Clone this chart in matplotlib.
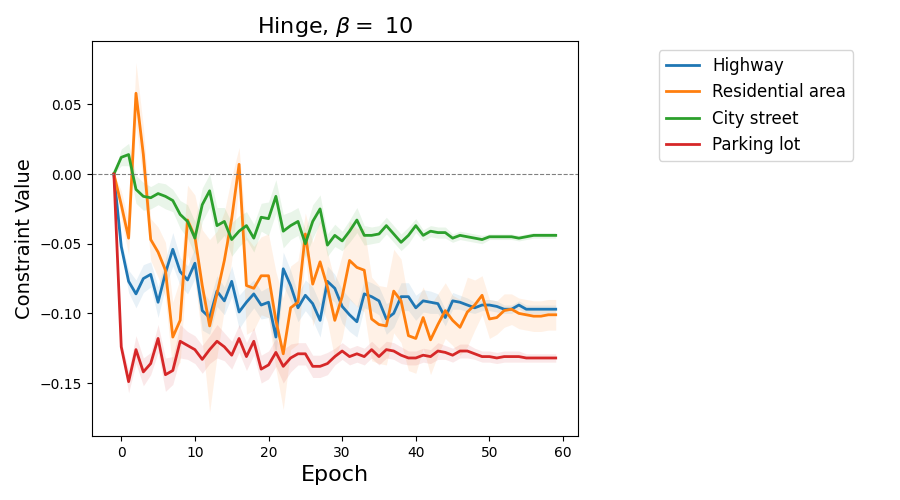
import numpy as np
import matplotlib
matplotlib.use("Agg")
import matplotlib.pyplot as plt

epochs = np.arange(-1, 60)

highway = [0, -0.052, -0.077, -0.086, -0.075, -0.072, -0.092, -0.071, -0.054, -0.070,
           -0.076, -0.064, -0.098, -0.103, -0.084, -0.091, -0.077, -0.099, -0.092, -0.086,
           -0.094, -0.092, -0.117, -0.068, -0.080, -0.096, -0.087, -0.093, -0.105, -0.077,
           -0.082, -0.095, -0.101, -0.106, -0.086, -0.088, -0.091, -0.104, -0.100, -0.088,
           -0.088, -0.096, -0.091, -0.092, -0.093, -0.103, -0.091, -0.092, -0.094, -0.096,
           -0.094, -0.094, -0.095, -0.097, -0.097, -0.094, -0.097, -0.097, -0.097, -0.097,
           -0.097]
highway_sd = [0, 0.004, 0.008, 0.010, 0.010, 0.009, 0.011, 0.010, 0.012, 0.010,
              0.010, 0.011, 0.014, 0.012, 0.011, 0.010, 0.011, 0.012, 0.011, 0.010,
              0.010, 0.011, 0.012, 0.012, 0.011, 0.010, 0.011, 0.012, 0.012, 0.011,
              0.010, 0.012, 0.012, 0.011, 0.010, 0.010, 0.010, 0.011, 0.010, 0.010,
              0.010, 0.009, 0.008, 0.008, 0.007, 0.006, 0.006, 0.005, 0.005, 0.004,
              0.004, 0.004, 0.004, 0.003, 0.003, 0.003, 0.003, 0.003, 0.003, 0.003,
              0.003]

residential = [0, -0.022, -0.046, 0.058, 0.014, -0.047, -0.056, -0.069, -0.117, -0.105,
               -0.033, -0.045, -0.080, -0.109, -0.086, -0.062, -0.032, 0.007, -0.080, -0.082,
               -0.073, -0.073, -0.105, -0.129, -0.096, -0.092, -0.043, -0.079, -0.063, -0.081,
               -0.105, -0.088, -0.062, -0.067, -0.069, -0.104, -0.108, -0.109, -0.084, -0.091,
               -0.116, -0.118, -0.103, -0.119, -0.108, -0.098, -0.105, -0.110, -0.099, -0.094,
               -0.087, -0.104, -0.103, -0.098, -0.097, -0.100, -0.101, -0.102, -0.102, -0.101,
               -0.101]
residential_sd = [0, 0.010, 0.012, 0.022, 0.020, 0.015, 0.018, 0.020, 0.025, 0.030,
                  0.025, 0.030, 0.040, 0.062, 0.045, 0.035, 0.030, 0.012, 0.035, 0.030,
                  0.028, 0.030, 0.035, 0.040, 0.030, 0.030, 0.015, 0.030, 0.030, 0.025,
                  0.028, 0.030, 0.028, 0.028, 0.030, 0.030, 0.028, 0.028, 0.030, 0.030,
                  0.025, 0.025, 0.022, 0.025, 0.022, 0.020, 0.018, 0.020, 0.025, 0.018,
                  0.014, 0.014, 0.012, 0.012, 0.011, 0.011, 0.011, 0.011, 0.011, 0.011,
                  0.011]

city = [0, 0.012, 0.014, -0.011, -0.016, -0.017, -0.014, -0.016, -0.019, -0.029,
        -0.034, -0.046, -0.022, -0.012, -0.037, -0.034, -0.047, -0.041, -0.037, -0.046,
        -0.031, -0.032, -0.016, -0.041, -0.037, -0.034, -0.050, -0.034, -0.025, -0.051,
        -0.044, -0.048, -0.041, -0.033, -0.044, -0.044, -0.043, -0.037, -0.043, -0.049,
        -0.044, -0.037, -0.044, -0.041, -0.042, -0.042, -0.046, -0.044, -0.045, -0.046,
        -0.047, -0.045, -0.045, -0.045, -0.045, -0.046, -0.045, -0.044, -0.044, -0.044,
        -0.044]
city_sd = [0, 0.006, 0.008, 0.010, 0.010, 0.008, 0.008, 0.009, 0.008, 0.010,
           0.012, 0.012, 0.012, 0.012, 0.013, 0.010, 0.012, 0.011, 0.010, 0.010,
           0.010, 0.012, 0.012, 0.012, 0.010, 0.010, 0.010, 0.012, 0.010, 0.008,
           0.008, 0.007, 0.008, 0.009, 0.007, 0.006, 0.006, 0.006, 0.006, 0.006,
           0.006, 0.005, 0.004, 0.004, 0.004, 0.004, 0.003, 0.003, 0.003, 0.003,
           0.003, 0.002, 0.002, 0.002, 0.002, 0.002, 0.002, 0.002, 0.002, 0.002,
           0.002]

parking = [0, -0.124, -0.149, -0.126, -0.142, -0.136, -0.118, -0.144, -0.141, -0.120,
           -0.123, -0.126, -0.133, -0.126, -0.120, -0.124, -0.130, -0.118, -0.131, -0.120,
           -0.140, -0.137, -0.128, -0.138, -0.132, -0.129, -0.129, -0.138, -0.138, -0.136,
           -0.131, -0.127, -0.131, -0.129, -0.131, -0.126, -0.131, -0.126, -0.127, -0.130,
           -0.132, -0.132, -0.130, -0.131, -0.127, -0.128, -0.130, -0.127, -0.127, -0.129,
           -0.131, -0.131, -0.132, -0.131, -0.131, -0.131, -0.132, -0.132, -0.132, -0.132,
           -0.132]
parking_sd = [0, 0.004, 0.008, 0.010, 0.010, 0.008, 0.010, 0.012, 0.010, 0.012,
              0.010, 0.010, 0.010, 0.010, 0.012, 0.010, 0.010, 0.010, 0.010, 0.010,
              0.010, 0.010, 0.010, 0.012, 0.010, 0.008, 0.008, 0.008, 0.008, 0.008,
              0.006, 0.006, 0.006, 0.006, 0.006, 0.006, 0.006, 0.006, 0.006, 0.006,
              0.005, 0.005, 0.005, 0.005, 0.006, 0.005, 0.005, 0.005, 0.005, 0.004,
              0.004, 0.004, 0.004, 0.004, 0.004, 0.004, 0.003, 0.003, 0.003, 0.003,
              0.003]

series = [
    ("Highway", highway, highway_sd, "tab:blue"),
    ("Residential area", residential, residential_sd, "tab:orange"),
    ("City street", city, city_sd, "tab:green"),
    ("Parking lot", parking, parking_sd, "tab:red"),
]

fig = plt.figure(figsize=(9, 5), dpi=100)
ax = fig.add_axes([0.102, 0.128, 0.540, 0.790])

for name, mean, sd, color in series:
    mean = np.array(mean)
    sd = np.array(sd)
    ax.plot(epochs, mean, color=color, linewidth=2, label=name)
    ax.fill_between(epochs, mean - sd, mean + sd, color=color, alpha=0.1, linewidth=0)

ax.axhline(0, color="gray", linestyle="--", linewidth=0.8)
ax.set_ylim(-0.188, 0.0955)
ax.set_title(r"Hinge, $\beta =$ 10", fontsize=16)
ax.set_xlabel("Epoch", fontsize=16)
ax.set_ylabel("Constraint Value", fontsize=14)
ax.legend(loc="upper left", bbox_to_anchor=(0.723, 0.916), bbox_transform=fig.transFigure,
          fontsize=12)

fig.savefig("out.png", dpi=100)
